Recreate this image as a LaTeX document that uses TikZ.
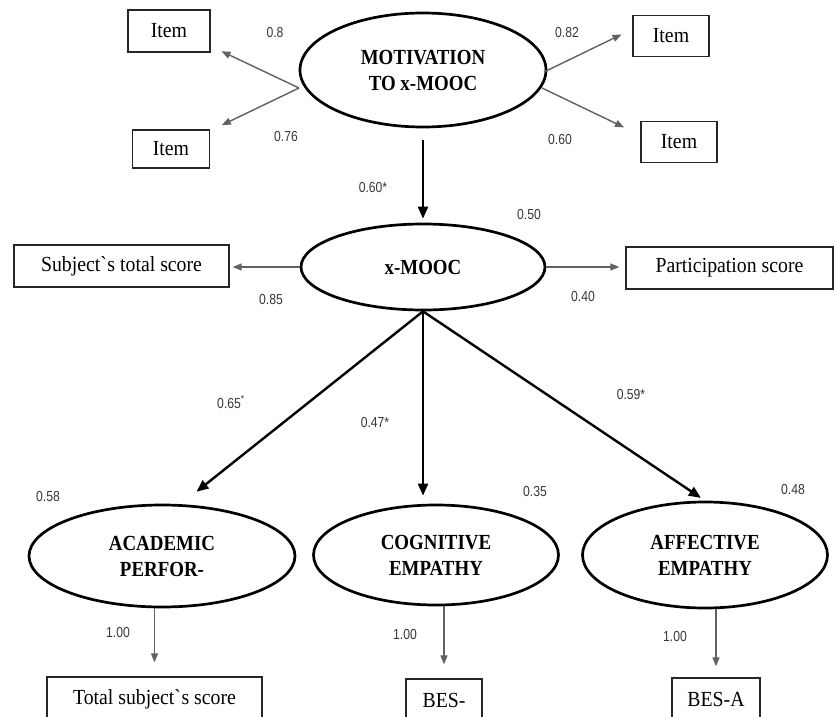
\documentclass[tikz,border=0pt]{standalone}
\usepackage{fontspec}
\setmainfont{Liberation Serif}
\newfontfamily\boxfont[FakeStretch=0.92]{Liberation Serif}
\newfontfamily\latfont[FakeStretch=0.88]{Liberation Serif}
\newfontfamily\numfont[FakeStretch=0.84]{Liberation Sans}
\usetikzlibrary{shapes.geometric,arrows.meta}
\begin{document}
\begin{tikzpicture}[x=1pt,y=-1pt,
  lat/.style={ellipse,draw,line width=2.7pt,inner sep=0pt,align=center,
    font=\latfont\fontsize{21.5}{26}\selectfont\bfseries},
  obs/.style={rectangle,draw=black!85,line width=1.3pt,inner sep=0pt,
    font=\boxfont\fontsize{21.5}{24}\selectfont},
  thinarrow/.style={draw=black!62,line width=1.4pt,-{Triangle[length=9pt,width=7pt]}},
  thickarrow/.style={draw=black,line width=2.4pt,-{Triangle[length=12pt,width=10pt]}},
  lbl/.style={font=\numfont\fontsize{14.5}{16}\selectfont,text=black!78,inner sep=0pt}]
\useasboundingbox (0,0) rectangle (835,717);
\clip (0,0) rectangle (835,717);
\fill[white] (0,0) rectangle (835,717);

% latent variables
\node[lat,minimum width=246pt,minimum height=114pt] (mot) at (423,70) {MOTIVATION\\TO x-MOOC};
\node[lat,minimum width=244pt,minimum height=86pt] (xm) at (423,267) {x-MOOC};
\node[lat,minimum width=266pt,minimum height=102pt] (aca) at (162,556) {ACADEMIC\\PERFOR-};
\node[lat,minimum width=245pt,minimum height=100pt] (cog) at (436,555) {COGNITIVE\\EMPATHY};
\node[lat,minimum width=245pt,minimum height=106pt] (aff) at (705,555) {AFFECTIVE\\EMPATHY};

% observed variables
\node[obs,minimum width=82pt,minimum height=42pt] (i1) at (169,31) {Item};
\node[obs,minimum width=77pt,minimum height=38pt] (i2) at (171,149) {Item};
\node[obs,minimum width=76pt,minimum height=41pt] (i3) at (671,36) {Item};
\node[obs,minimum width=76pt,minimum height=41pt] (i4) at (679,142) {Item};
\node[obs,minimum width=215pt,minimum height=42pt] (subj) at (121.5,266) {Subject\textasciigrave s total score};
\node[obs,minimum width=207pt,minimum height=42pt] (part) at (729.5,268) {Participation score};
\node[obs,minimum width=215pt,minimum height=44pt] (tot) at (154.5,699) {Total subject\textasciigrave s score};
\node[obs,minimum width=76pt,minimum height=42pt] (besc) at (444,700) {BES-};
\node[obs,minimum width=88pt,minimum height=42pt] (besa) at (716,699) {BES-A};

% start points on the motivation ellipse
\coordinate (mL) at (299,88);
\coordinate (mR1) at (544,72);
\coordinate (mR2) at (542,88);

% thin arrows
\draw[thinarrow,shorten >=12pt] (mL) -- (i1.-20);
\draw[thinarrow,shorten >=13pt] (mL) -- (i2.25);
\draw[thinarrow,shorten >=12pt] (mR1) -- (i3.170);
\draw[thinarrow,shorten >=18pt] (mR2) -- (i4.170);
\draw[thinarrow,shorten >=3pt] (xm.west) -- (xm.west -| subj.east);
\draw[thinarrow,shorten >=6pt] (xm.east) -- (xm.east -| part.west);
\draw[thinarrow,shorten >=14pt] (aca.south -| tot.north) -- (tot.north);
\draw[thinarrow,shorten >=14pt] (cog.south -| besc.north) -- (besc.north);
\draw[thinarrow,shorten >=11pt] (aff.south -| besa.north) -- (besa.north);

% thick arrows
\draw[thickarrow,shorten <=12pt,shorten >=4pt] (mot.south) -- (xm.north);
\draw[thickarrow,shorten >=20pt] (xm.south) -- (aca.70);
\draw[thickarrow,shorten >=8pt] (xm.south) -- (xm.south |- cog.north);
\draw[thickarrow,shorten >=5pt] (xm.south) -- (aff.north);

% labels
\node[lbl] (l08) at (275,33) {0.8};
\node[lbl] (l076) at (286,137) {0.76};
\node[lbl] (l082) at (567,33) {0.82};
\node[lbl] (l060) at (560,140) {0.60};
\node[lbl] (l060s) at (373,188) {0.60*};
\node[lbl] (l050) at (529,215) {0.50};
\node[lbl] (l085) at (271,300) {0.85};
\node[lbl] (l040) at (583,297) {0.40};
\node[lbl] (l065) at (231,402) {0.65\textsuperscript{*}};
\node[lbl] (l047) at (375,423) {0.47*};
\node[lbl] (l059) at (631,395) {0.59*};
\node[lbl] (l058) at (48,497) {0.58};
\node[lbl] (l035) at (535,492) {0.35};
\node[lbl] (l048) at (793,490) {0.48};
\node[lbl] (l100a) at (118,633) {1.00};
\node[lbl] (l100c) at (405,635) {1.00};
\node[lbl] (l100f) at (675,637) {1.00};
\end{tikzpicture}
\end{document}
